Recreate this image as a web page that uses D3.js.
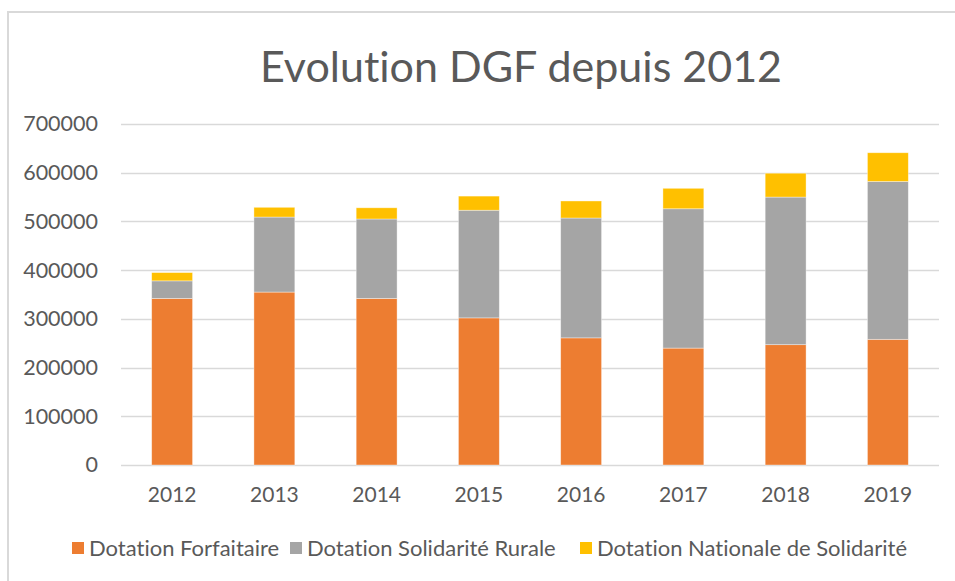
<!DOCTYPE html>
<html>
<head>
<meta charset="utf-8">
<script src="https://cdn.jsdelivr.net/npm/d3@7"></script>
<style>
  body { margin: 0; background: #fff; }
  text { font-family: Lato, "Open Sans", sans-serif; fill: #595959; font-variant-ligatures: none; }
</style>
</head>
<body>
<div class="chart"></div>
<script>
// data
var years = ["2012", "2013", "2014", "2015", "2016", "2017", "2018", "2019"];
var forfaitaire = [342000, 355000, 342000, 302000, 261000, 240000, 247000, 258000];
var solidariteRurale = [36000, 154000, 163000, 221000, 246000, 286000, 303000, 324000];
var nationaleSolidarite = [17000, 20000, 23000, 29000, 35000, 42000, 49000, 59000];
var seriesNames = ["Dotation Forfaitaire", "Dotation Solidarité Rurale", "Dotation Nationale de Solidarité"];
var yTicks = [0, 100000, 200000, 300000, 400000, 500000, 600000, 700000];

var colors = ["#ED7D31", "#A5A5A5", "#FFC000"];

var svgWidth = 955;
var svgHeight = 581;

var margin = { top: 124, right: 16, bottom: 116, left: 121 };
var width = svgWidth - margin.left - margin.right;
var height = svgHeight - margin.top - margin.bottom;

var svg = d3.select(".chart")
  .append("svg")
  .attr("width", svgWidth)
  .attr("height", svgHeight);

// chart border (only top and left visible in the picture)
svg.append("rect")
  .attr("x", 8)
  .attr("y", 12)
  .attr("width", svgWidth + 20)
  .attr("height", svgHeight + 20)
  .attr("fill", "none")
  .attr("stroke", "#d9d9d9")
  .attr("stroke-width", 2);

svg.append("text")
  .attr("x", 521)
  .attr("y", 82)
  .attr("text-anchor", "middle")
  .style("font-size", "43px")
  .text("Evolution DGF depuis 2012");

var chartGroup = svg.append("g")
  .attr("transform", `translate(${margin.left}, ${margin.top})`);

var table = years.map((y, i) => ({
  year: y,
  s0: forfaitaire[i],
  s1: solidariteRurale[i],
  s2: nationaleSolidarite[i]
}));
var stacked = d3.stack().keys(["s0", "s1", "s2"])(table);

var xScale = d3.scaleBand()
  .domain(years)
  .range([0, width])
  .paddingInner(0.6)
  .paddingOuter(0.3);

var yScale = d3.scaleLinear()
  .domain([0, 700000])
  .range([height, 0]);

// gridlines
chartGroup.append("g")
  .selectAll("line")
  .data(yTicks)
  .enter()
  .append("line")
  .attr("x1", 0)
  .attr("x2", width)
  .attr("y1", d => Math.round(yScale(d)) + 0.5)
  .attr("y2", d => Math.round(yScale(d)) + 0.5)
  .attr("stroke", "#d9d9d9")
  .attr("stroke-width", 1.5);

// y axis labels
var leftAxis = d3.axisLeft(yScale).tickValues(yTicks).tickSize(0).tickPadding(23).tickFormat(d3.format("d"));
var yAxisG = chartGroup.append("g").call(leftAxis);
yAxisG.select(".domain").remove();
yAxisG.selectAll("text").style("font-size", "21.5px").attr("fill", "#595959");

// bars
chartGroup.append("g")
  .selectAll("g")
  .data(stacked)
  .enter()
  .append("g")
  .attr("fill", (d, i) => colors[i])
  .selectAll("rect")
  .data(d => d)
  .enter()
  .append("rect")
  .attr("x", d => xScale(d.data.year))
  .attr("width", xScale.bandwidth())
  .attr("y", d => yScale(d[1]))
  .attr("height", d => yScale(d[0]) - yScale(d[1]))
  .attr("stroke", "#ffffff")
  .attr("stroke-opacity", 0.5)
  .attr("stroke-width", 0.75);

// x axis
var bottomAxis = d3.axisBottom(xScale).tickSize(0).tickPadding(22);
var xAxisG = chartGroup.append("g")
  .attr("transform", `translate(0, ${height})`)
  .call(bottomAxis);
xAxisG.select(".domain").remove();
xAxisG.selectAll("text").style("font-size", "21px").attr("fill", "#595959");

// legend
var legendX = [72, 290, 580];
var legend = svg.append("g");
seriesNames.forEach((name, i) => {
  var g = legend.append("g").attr("transform", `translate(${legendX[i]}, 548)`);
  g.append("rect")
    .attr("x", 0)
    .attr("y", -6)
    .attr("width", 12)
    .attr("height", 12)
    .attr("fill", colors[i]);
  g.append("text")
    .attr("x", 17)
    .attr("dy", "0.36em")
    .style("font-size", "22px")
    .text(name);
});
</script>
</body>
</html>
